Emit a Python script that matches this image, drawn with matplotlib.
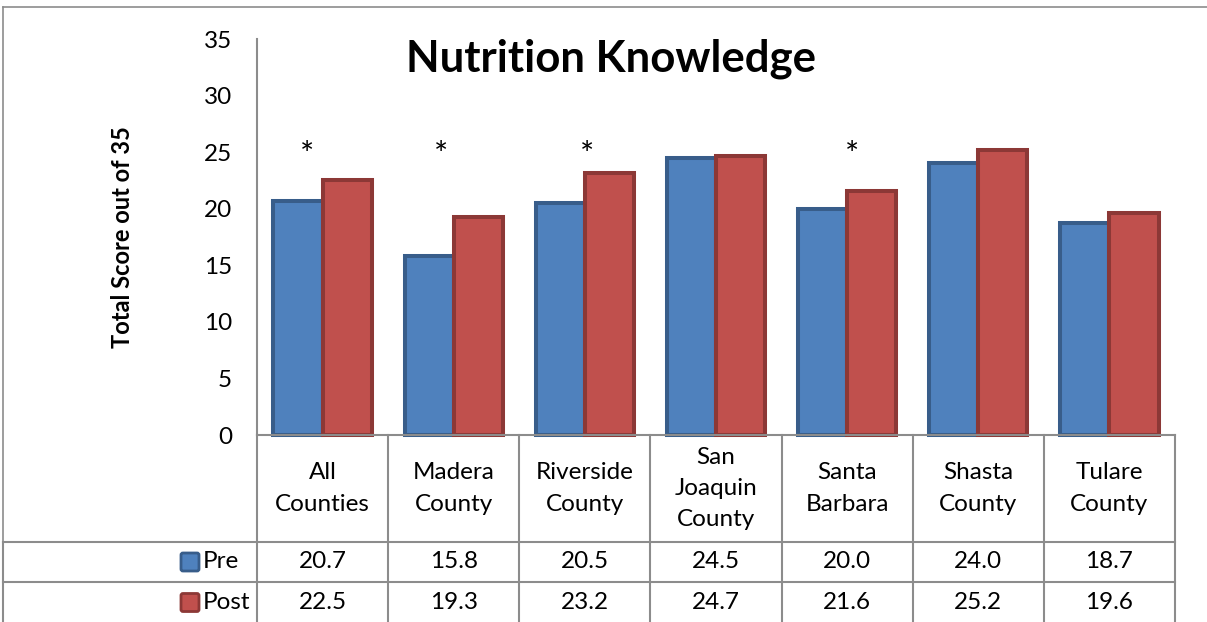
import matplotlib
matplotlib.use("Agg")
import matplotlib.pyplot as plt
import matplotlib.transforms as mtransforms
from matplotlib.patches import FancyBboxPatch
import numpy as np

plt.rcParams["font.family"] = ["Lato", "DejaVu Sans"]

# --- Data ---
counties = ["All\nCounties", "Madera\nCounty", "Riverside\nCounty",
            "San\nJoaquin\nCounty", "Santa\nBarbara", "Shasta\nCounty",
            "Tulare\nCounty"]
pre = [20.7, 15.8, 20.5, 24.5, 20.0, 24.0, 18.7]
post = [22.5, 19.3, 23.2, 24.7, 21.6, 25.2, 19.6]
significant = [True, True, True, False, True, False, False]
star_offset = [-0.12, -0.10, 0.02, 0.0, 0.04, 0.0, 0.0]

BLUE, BLUE_EDGE = "#4f81bd", "#385d8a"
RED, RED_EDGE = "#c0504d", "#8c3836"
LINE = "#8c8c8c"
FS = 17.5

# --- Figure / plot area (pixel layout) ---
W, H, DPI = 1207, 622, 100
fig = plt.figure(figsize=(W / DPI, H / DPI), dpi=DPI)
pl, pr, pt, pb = 257, 1175, 39, 435
ax = fig.add_axes([pl / W, 1 - pb / H, (pr - pl) / W, (pb - pt) / H])

# overlay in pixel coords (y pointing down) for the data table and frame
ov = fig.add_axes([0, 0, 1, 1])
ov.set_xlim(0, W)
ov.set_ylim(H, 0)
ov.axis("off")

# --- Bars ---
x = np.arange(len(pre))
bw = 0.375
ax.bar(x - bw / 2, pre, bw, color=BLUE, edgecolor=BLUE_EDGE, linewidth=2.9,
       clip_on=False, zorder=2)
ax.bar(x + bw / 2, post, bw, color=RED, edgecolor=RED_EDGE, linewidth=2.9,
       clip_on=False, zorder=2)

for i, sig in enumerate(significant):
    if sig:
        ax.text(i + star_offset[i], 23.9, "*", ha="center", va="baseline",
                fontsize=24)

ax.set_xlim(-0.5, len(pre) - 0.5)
ax.set_ylim(0, 35)
ax.set_yticks(range(0, 36, 5))
ax.set_xticks([])
ax.tick_params(axis="y", length=0, pad=18, labelsize=FS)
for s in ("top", "right"):
    ax.spines[s].set_visible(False)
for s in ("left", "bottom"):
    ax.spines[s].set_color(LINE)
    ax.spines[s].set_linewidth(1.5)
ax.patch.set_visible(False)

ax.set_ylabel("Total Score out of 35", fontsize=17, fontweight="bold")
ax.yaxis.set_label_coords(-0.147, 0.5)
ax.yaxis.label.set_va("center")

ax.text(0.3856, 0.917, "Nutrition Knowledge", transform=ax.transAxes,
        ha="center", va="baseline", fontsize=31.5, fontweight="bold")

# --- Data table under the axis ---
xt = mtransforms.blended_transform_factory(ax.transData, ov.transData)
head_bot, pre_bot, post_bot = 542, 582, 623
leg_left = 3

for e in np.arange(len(pre) + 1) - 0.5:
    ov.plot([e, e], [pb, post_bot], transform=xt, color=LINE, lw=1.5,
            clip_on=False)
ov.plot([leg_left, leg_left], [head_bot, post_bot], color=LINE, lw=1.5,
        clip_on=False)
for yy in (head_bot, pre_bot):
    ov.plot([leg_left, pr], [yy, yy], color=LINE, lw=1.5, clip_on=False)

for i, lab in enumerate(counties):
    ov.text(i, (pb + head_bot) / 2, lab, transform=xt, ha="center",
            va="center", fontsize=FS, linespacing=1.6)
    ov.text(i, (head_bot + pre_bot) / 2, f"{pre[i]:.1f}", transform=xt,
            ha="center", va="center", fontsize=FS)
    ov.text(i, (pre_bot + post_bot) / 2, f"{post[i]:.1f}", transform=xt,
            ha="center", va="center", fontsize=FS)

for name, fc, ec, (top, bot) in (("Pre", BLUE, BLUE_EDGE, (head_bot, pre_bot)),
                                 ("Post", RED, RED_EDGE, (pre_bot, post_bot))):
    cy = (top + bot) / 2
    ov.add_patch(FancyBboxPatch((182, cy - 8), 16, 16,
                                boxstyle="round,pad=1,rounding_size=2",
                                fc=fc, ec=ec, lw=2))
    ov.text(203, cy, name, ha="left", va="center", fontsize=FS)

# --- Outer chart frame ---
ov.plot([leg_left, leg_left], [6.5, H + 2], color=LINE, lw=1.2, clip_on=False)
ov.plot([leg_left, W + 2], [6.5, 6.5], color=LINE, lw=1.2, clip_on=False)

fig.savefig("out.png", dpi=DPI)
